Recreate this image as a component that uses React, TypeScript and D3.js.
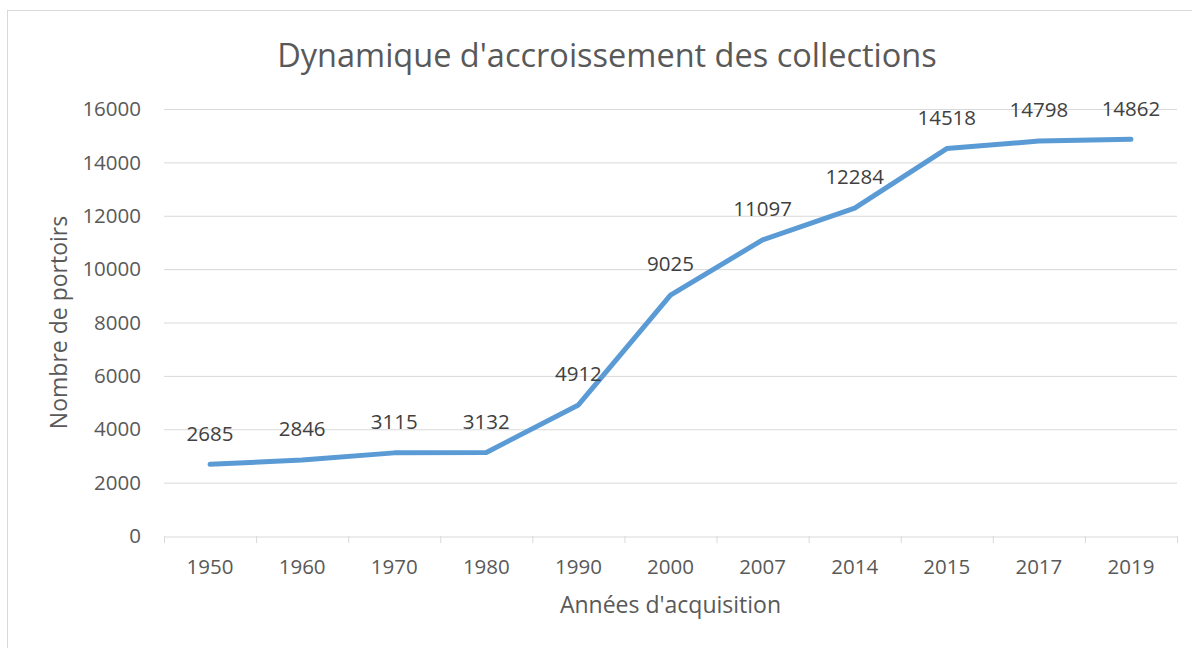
import React, { useRef, useEffect } from 'react';
import * as d3 from 'd3';

const years = ['1950', '1960', '1970', '1980', '1990', '2000', '2007', '2014', '2015', '2017', '2019'];
const portoirs = [2685, 2846, 3115, 3132, 4912, 9025, 11097, 12284, 14518, 14798, 14862];
const yTicks = [0, 2000, 4000, 6000, 8000, 10000, 12000, 14000, 16000];

const App = () => {
  const ref = useRef(null);

  useEffect(() => {
    const width = 1192;
    const height = 648;
    const left = 164;
    const right = 1177;
    const top = 109;
    const bottom = 536;
    const font = '"Open Sans", sans-serif';

    const svg = d3.select(ref.current);
    svg.selectAll('*').remove();
    svg.attr('width', width).attr('height', height);

    // chart frame
    svg.append('rect')
      .attr('x', 7.5).attr('y', 10.5)
      .attr('width', 1200).attr('height', 700)
      .attr('fill', 'white')
      .attr('stroke', '#d9d9d9');

    const x = d3.scaleBand().domain(years).range([left, right]);
    const y = d3.scaleLinear().domain([0, 16000]).range([bottom, top]);

    // gridlines
    svg.append('g')
      .selectAll('line')
      .data(yTicks.slice(1))
      .enter()
      .append('line')
      .attr('x1', left).attr('x2', right)
      .attr('y1', d => y(d) + 0.5).attr('y2', d => y(d) + 0.5)
      .attr('stroke', '#d9d9d9')
      .attr('stroke-width', 1);

    // x axis
    const xAxis = svg.append('g')
      .attr('transform', `translate(0,${bottom + 0.5})`)
      .call(d3.axisBottom(x).tickSize(0).tickPadding(23));
    xAxis.select('.domain').attr('stroke', '#d9d9d9');
    xAxis.selectAll('text')
      .attr('fill', '#595959')
      .style('font-family', font)
      .style('font-size', '20.5px');

    // category tick marks between bands
    const edges = years.map(d => x(d)).concat([right]);
    svg.append('g')
      .selectAll('line')
      .data(edges)
      .enter()
      .append('line')
      .attr('x1', d => d + 0.5).attr('x2', d => d + 0.5)
      .attr('y1', bottom).attr('y2', bottom + 7)
      .attr('stroke', '#d9d9d9');

    // y axis labels
    svg.append('g')
      .selectAll('text')
      .data(yTicks)
      .enter()
      .append('text')
      .attr('x', 141)
      .attr('y', d => y(d))
      .attr('dy', '0.35em')
      .attr('text-anchor', 'end')
      .attr('fill', '#595959')
      .style('font-family', font)
      .style('font-size', '20.5px')
      .text(d => d);

    // line
    const line = d3.line<number>()
      .x((d, i) => x(years[i]) + x.bandwidth() / 2)
      .y(d => y(d));

    svg.append('path')
      .datum(portoirs)
      .attr('d', line)
      .attr('fill', 'none')
      .attr('stroke', '#5b9bd5')
      .attr('stroke-width', 5)
      .attr('stroke-linecap', 'round')
      .attr('stroke-linejoin', 'round');

    // data labels
    svg.append('g')
      .selectAll('text')
      .data(portoirs)
      .enter()
      .append('text')
      .attr('x', (d, i) => x(years[i]) + x.bandwidth() / 2)
      .attr('y', d => y(d) - 31)
      .attr('dy', '0.35em')
      .attr('text-anchor', 'middle')
      .attr('fill', '#404040')
      .style('font-family', font)
      .style('font-size', '20.5px')
      .text(d => d);

    // title
    svg.append('text')
      .attr('x', 607)
      .attr('y', 67)
      .attr('text-anchor', 'middle')
      .attr('fill', '#595959')
      .style('font-family', font)
      .style('font-size', '32.5px')
      .text("Dynamique d'accroissement des collections");

    // axis titles
    svg.append('text')
      .attr('x', (left + right) / 2)
      .attr('y', 613)
      .attr('text-anchor', 'middle')
      .attr('fill', '#595959')
      .style('font-family', font)
      .style('font-size', '23px')
      .text("Années d'acquisition");

    svg.append('text')
      .attr('transform', `translate(67,${(top + bottom) / 2}) rotate(-90)`)
      .attr('text-anchor', 'middle')
      .attr('fill', '#595959')
      .style('font-family', font)
      .style('font-size', '23px')
      .text('Nombre de portoirs');
  }, []);

  return (
    <svg
      ref={ref}
      style={{ position: 'absolute', left: 0, top: 0, display: 'block' }}
    />
  );
};

export default App;
